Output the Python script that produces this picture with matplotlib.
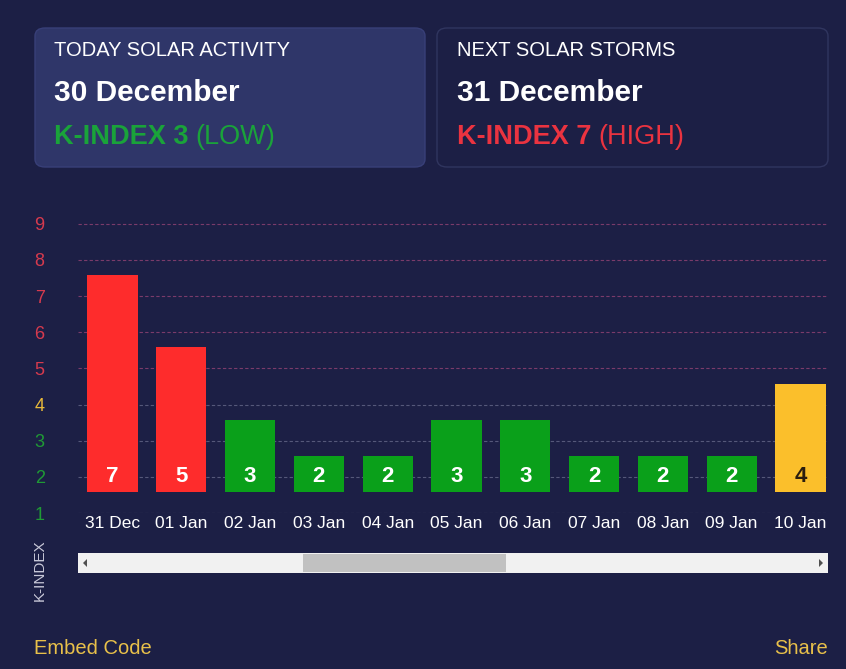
import matplotlib.pyplot as plt
from matplotlib.patches import FancyBboxPatch, Rectangle, Polygon

plt.rcParams['font.family'] = ['Liberation Sans', 'DejaVu Sans']

days = ['31 Dec', '01 Jan', '02 Jan', '03 Jan', '04 Jan', '05 Jan',
        '06 Jan', '07 Jan', '08 Jan', '09 Jan', '10 Jan']
kindex = [7, 5, 3, 2, 2, 3, 3, 2, 2, 2, 4]
levels = [1, 2, 3, 4, 5, 6, 7, 8, 9]

BG = '#1c1f45'
CARD = '#2f3669'
RED = '#fe2c2c'
GREEN = '#0aa01a'
YELLOW = '#fbbf2b'
W, H = 846, 669


def col(v):
    if v >= 5:
        return RED
    if v == 4:
        return YELLOW
    return GREEN


def tick_col(v):
    if v >= 5:
        return '#d63a4e'
    if v == 4:
        return '#e8b93a'
    return '#1f9a35'


def fx(px):
    return px / W


def fy(py):
    return 1 - py / H


fig = plt.figure(figsize=(W / 100, H / 100), dpi=100, facecolor=BG)
rend = fig.canvas.get_renderer()

# top cards
c1 = FancyBboxPatch((fx(35), fy(167)), fx(390), 139 / H,
                    boxstyle='round,pad=0,rounding_size=0.012',
                    transform=fig.transFigure, fc=CARD, ec='#383f78', lw=1)
c2 = FancyBboxPatch((fx(437), fy(167)), fx(391), 139 / H,
                    boxstyle='round,pad=0,rounding_size=0.012',
                    transform=fig.transFigure, fc=BG, ec='#30355f', lw=1)
fig.patches.extend([c1, c2])


def card(x0, title, date, kval, word, c):
    fig.text(fx(x0), fy(50), title, color='white', fontsize=14.5, va='center')
    fig.text(fx(x0), fy(93), date, color='white', fontsize=21.5, weight='bold', va='center')
    t = fig.text(fx(x0), fy(137), 'K-INDEX %d' % kval, color=c, fontsize=19.5,
                 weight='bold', va='center')
    w = t.get_window_extent(rend).width
    fig.text(fx(x0 + w + 7), fy(137), '(%s)' % word, color=c, fontsize=19.5, va='center')


card(54, 'TODAY SOLAR ACTIVITY', '30 December', 3, 'LOW', '#1aa33a')
card(457, 'NEXT SOLAR STORMS', '31 December', 7, 'HIGH', '#ea3340')

# chart
off = 0.58
ax = fig.add_axes([fx(78), fy(513), fx(750), 300 / H])
ax.set_facecolor(BG)
x = list(range(len(days)))
ax.bar(x, [v - 1 for v in kindex], bottom=1, width=0.73,
       color=[col(v) for v in kindex], zorder=3)
for xi, v in zip(x, kindex):
    ax.text(xi, 1.42, str(v), ha='center', va='center', fontsize=16,
            weight='bold', color='#2b1d0e' if v == 4 else 'white', zorder=4)

ax.set_xlim(-0.5, 10.4)
ax.set_ylim(1 - off, 9.3 - off)
ax.set_yticks([l - off for l in levels])
ax.set_yticklabels([str(l) for l in levels], fontsize=13)
for lab, l in zip(ax.get_yticklabels(), levels):
    lab.set_color(tick_col(l))
for l in levels:
    gc = '#7a3b6a' if l >= 5 else '#55587a'
    ax.axhline(l - off, color=gc, lw=0.8, ls=(0, (3, 2)), zorder=1)
ax.set_xticks(x)
ax.set_xticklabels(days, fontsize=12.5, color='white')
ax.tick_params(axis='both', length=0)
ax.tick_params(axis='y', pad=24)
ax.tick_params(axis='x', pad=2)
for s in ax.spines.values():
    s.set_visible(False)

fig.text(fx(40), fy(570), 'K-INDEX', color='#c8c8d8', fontsize=11,
         rotation=90, ha='center', va='center')

# scrollbar
fig.patches.append(Rectangle((fx(78), fy(573)), fx(750), 20 / H,
                             transform=fig.transFigure, fc='#f1f1f1', ec='none'))
fig.patches.append(Rectangle((fx(303), fy(572)), fx(203), 18 / H,
                             transform=fig.transFigure, fc='#c1c1c1', ec='none'))
fig.patches.append(Polygon([(fx(87), fy(559)), (fx(87), fy(567)), (fx(83), fy(563))],
                           closed=True, transform=fig.transFigure, fc='#505050'))
fig.patches.append(Polygon([(fx(819), fy(559)), (fx(819), fy(567)), (fx(823), fy(563))],
                           closed=True, transform=fig.transFigure, fc='#505050'))

fig.text(fx(34), fy(648), 'Embed Code', color='#e8c04a', fontsize=14.5, va='center')
fig.text(fx(828), fy(648), 'Share', color='#e8c04a', fontsize=14.5, va='center', ha='right')

fig.savefig('out.png', dpi=100, facecolor=BG)
